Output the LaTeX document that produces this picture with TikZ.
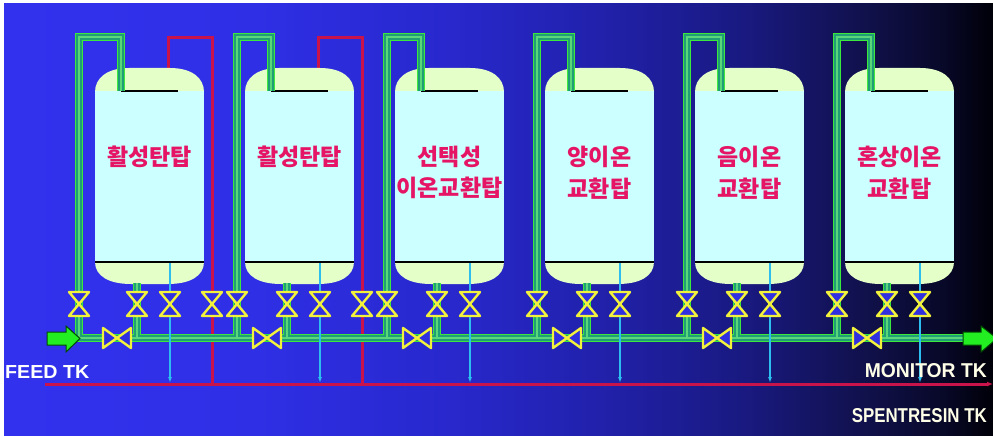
\documentclass[tikz,border=0pt]{standalone}
\usepackage{fontspec}
\usepackage{graphicx}
\setmainfont{Liberation Sans}
\newfontfamily\krfont{Noto Sans CJK KR}
\usetikzlibrary{arrows.meta}

\definecolor{bgA}{RGB}{50,50,238}
\definecolor{bgB}{RGB}{47,47,230}
\definecolor{bgC}{RGB}{40,40,205}
\definecolor{bgD}{RGB}{33,33,172}
\definecolor{bgE}{RGB}{25,25,128}
\definecolor{bgF}{RGB}{16,16,72}
\definecolor{bgG}{RGB}{8,8,40}
\definecolor{bgH}{RGB}{0,0,8}
\definecolor{pipegreen}{RGB}{60,232,60}
\definecolor{pipeteal}{RGB}{32,158,118}
\definecolor{pipecore}{RGB}{90,215,120}
\definecolor{resinred}{RGB}{200,20,75}
\definecolor{drainblue}{RGB}{45,190,240}
\definecolor{valveyellow}{RGB}{242,242,60}
\definecolor{valvefill}{RGB}{48,48,225}
\definecolor{domegreen}{RGB}{228,255,200}
\definecolor{shellcyan}{RGB}{204,255,255}
\definecolor{labelpink}{RGB}{230,20,100}
\definecolor{feedgreen}{RGB}{34,238,34}
\definecolor{tkcream}{RGB}{255,255,232}

% the fill spans 25bp..75bp of the shading
\pgfdeclarehorizontalshading{bgfade}{100bp}{color(0bp)=(bgA); color(25bp)=(bgA);
  color(37.5bp)=(bgB); color(47.5bp)=(bgC); color(55bp)=(bgD); color(62.5bp)=(bgE);
  color(69bp)=(bgF); color(72.5bp)=(bgG); color(75bp)=(bgH); color(100bp)=(bgH)}

\tikzset{
  pipebase/.style={draw=pipegreen, line width=8pt},
  pipemid/.style={draw=pipeteal, line width=5.6pt},
  pipecenter/.style={draw=pipecore, line width=1.1pt},
  redpipe/.style={draw=resinred, line width=3pt},
  drainline/.style={draw=drainblue, line width=1.8pt, -{Latex[length=6pt,width=4pt]}},
  valvebody/.style={draw=valveyellow, fill=valvefill, line width=2.4pt, line join=round},
  dome/.style={fill=domegreen},
  shell/.style={fill=shellcyan},
  rim/.style={draw=black, line width=2pt},
  tanklabel/.style={text=labelpink, font=\krfont\bfseries\fontsize{23pt}{26pt}\selectfont, inner sep=0},
  tkname/.style={inner sep=0, font=\bfseries},
  vvalve/.pic={\path[valvebody] (-10,-12) -- (10,-12) -- (0,0) -- cycle
                                (-10,12) -- (10,12) -- (0,0) -- cycle;},
  hvalve/.pic={\path[valvebody] (-14,-10) -- (-14,10) -- (0,0) -- cycle
                                (14,-10) -- (14,10) -- (0,0) -- cycle;},
  flowarrow/.style={fill=feedgreen, draw=black!70!green, line width=1pt, line join=miter}
}

% green process piping: header, inlet risers and outlet legs
\def\processpipes{
  (76,338) -- (965,338)
  (79,338) -- (79,37) -- (121,37) -- (121,91)
  \foreach \L in {245,395,545,695,845} {(\L-8,338) -- (\L-8,37) -- (\L+26,37) -- (\L+26,91)}
  \foreach \L in {95,245,395,545,695,845} {(\L+42,283) -- (\L+42,338)}
}

\begin{document}
\begin{tikzpicture}[x=1pt,y=-1pt]
\useasboundingbox (0,0) rectangle (993,436);
\begin{scope}
\clip (0,0) rectangle (993,436);
\fill[white] (0,0) rectangle (993,436);
\fill[shading=bgfade] (4,4) rectangle (993,436);

% spent resin line and resin return loops
\draw[redpipe, -{Latex[length=6pt,width=5pt]}] (45,384) coordinate (spentstart) -- (993,384) coordinate (spentend);
\draw[redpipe] (168,72) -- (168,38) -- (212,38) -- (212,384);
\draw[redpipe] (318,72) -- (318,38) -- (362,38) -- (362,384);

% vessels
\foreach \L in {95,245,395,545,695,845} {
  \fill[dome] (\L,92) .. controls (\L,78) and (\L+12,68) .. (\L+34,68) -- (\L+75,68)
        .. controls (\L+97,68) and (\L+109,78) .. (\L+109,92) -- cycle;
  \fill[dome] (\L,262) .. controls (\L,276) and (\L+14,284) .. (\L+36,284) -- (\L+73,284)
        .. controls (\L+95,284) and (\L+109,276) .. (\L+109,262) -- cycle;
  \fill[shell] (\L,91) rectangle (\L+109,262);
  \draw[rim] (\L+26,91) -- (\L+83,91);
  \draw[rim] (\L,262) -- (\L+109,262);
}

% process piping drawn in three layers
\path[pipebase] \processpipes;
\path[pipemid] \processpipes;
\path[pipecenter] \processpipes;

% resin transfer lines down to the spent resin line
\foreach \L in {95,245,395,545,695,845} {
  \draw[drainline] (\L+75,263) -- (\L+75,383);
}

% valves
\foreach \x in {79,237,387,537,687,837} {\pic at (\x,304) {vvalve};}
\foreach \L in {95,245,395,545,695,845} {
  \pic at (\L+42,304) {vvalve};
  \pic at (\L+75,304) {vvalve};
  \pic at (\L+22,338) {hvalve};
}
\pic at (212,304) {vvalve};
\pic at (362,304) {vvalve};

% feed and product arrows
\draw[flowarrow] (47,332) -- (66,332) -- (66,326) -- (80,338.5) -- (66,352) -- (66,345) -- (47,345) -- cycle;
\draw[flowarrow] (963,332) -- (981,332) -- (981,326) -- (997,338.5) -- (981,352) -- (981,345) -- (963,345) -- cycle;

% vessel labels
\node[tanklabel] (t1) at (149.5,157) {활성탄탑};
\node[tanklabel] (t2) at (299.5,157) {활성탄탑};
\node[tanklabel] (t3a) at (449.5,157) {선택성};
\node[tanklabel] (t3b) at (449.5,188) {이온교환탑};
\node[tanklabel] (t4a) at (599.5,157) {양이온};
\node[tanklabel] (t4b) at (599.5,189) {교환탑};
\node[tanklabel] (t5a) at (749.5,157) {음이온};
\node[tanklabel] (t5b) at (749.5,189) {교환탑};
\node[tanklabel] (t6a) at (899.5,157) {혼상이온};
\node[tanklabel] (t6b) at (899.5,189) {교환탑};

% tank names
\node[tkname, anchor=north west, text=white] (feed) at (5,365) {\resizebox{84pt}{13pt}{FEED TK}};
\node[tkname, anchor=north east, text=tkcream] (monitor) at (987,363) {\resizebox{122pt}{14pt}{MONITOR TK}};
\node[tkname, anchor=north east, text=tkcream] (spent) at (987,408) {\resizebox{135pt}{14pt}{SPENTRESIN TK}};
\end{scope}
\end{tikzpicture}
\end{document}
